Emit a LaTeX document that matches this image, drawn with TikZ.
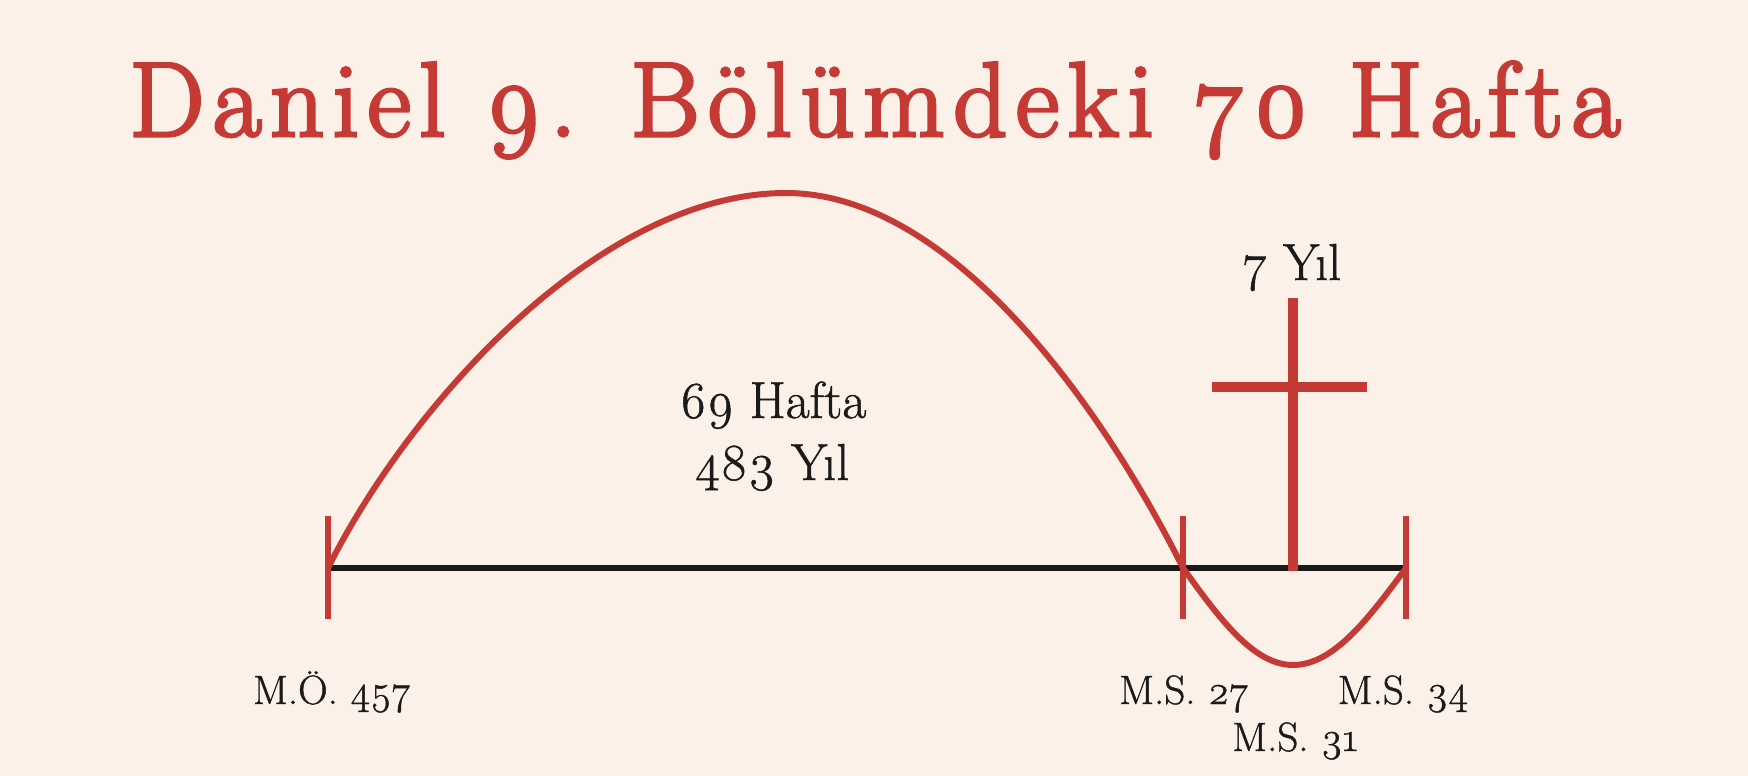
\documentclass[tikz,border=0pt]{standalone}
\usepackage{fontspec}
\setmainfont{Latin Modern Roman}[Numbers=OldStyle]
\newfontfamily\titlefont{Latin Modern Roman}[Numbers=OldStyle,LetterSpace=8,FakeBold=3]
\newfontfamily\labelfont{Latin Modern Roman}[Numbers=OldStyle,FakeBold=1]
\definecolor{bg}{HTML}{FCF1E9}
\definecolor{rd}{HTML}{C63A36}
\definecolor{ink}{HTML}{1A1A1A}
\begin{document}
\begin{tikzpicture}[x=1pt,y=-1pt,
  titletext/.style={anchor=base,text=rd,font=\fontsize{106}{120}\titlefont,inner sep=0pt},
  lbl/.style={anchor=base,text=ink,font=\fontsize{41}{48}\labelfont,inner sep=0pt},
  biglbl/.style={anchor=base,text=ink,font=\fontsize{52}{62}\labelfont,inner sep=0pt,align=center},
  tick/.style={draw=rd,line width=6.5pt},
  axis/.style={draw=ink,line width=6pt},
  wave/.style={draw=rd,line width=6pt},
  crossbar/.style={draw=rd,line width=10pt}]
\fill[bg] (0,0) rectangle (1748,776);
\useasboundingbox (0,0) rectangle (1748,776);
\node[titletext] (title) at (875,136) {Daniel 9. Bölümdeki 70 Hafta};
% time points
\coordinate (a) at (328,568);
\coordinate (b) at (1183,568);
\coordinate (m) at (1293,568);
\coordinate (c) at (1406,568);
\coordinate (peak) at (786,193);
\coordinate (trough) at (1293,665);
% axis
\draw[axis] (a) -- (c);
% wave
\draw[wave] (a) .. controls (410,404) and (600,193) .. (peak)
  .. controls (956,193) and (1108,418) .. (b)
  sin (trough) cos (c);
% ticks
\foreach \p in {a,b,c}{
  \draw[tick] ([yshift=-51pt]\p) -- ([yshift=52pt]\p);
}
% cross
\coordinate (crosstop) at (1293,298);
\coordinate (crossL) at (1212,387);
\coordinate (crossR) at (1367,387);
\draw[crossbar] (crosstop) -- ([yshift=-3pt]m);
\draw[crossbar] (crossL) -- (crossR);
% labels
\node[biglbl] (seven) at (1292,280) {7 Yıl};
\node[biglbl] (sixtynine) at (773,418) {69 Hafta};
\node[biglbl] (years) at (772,480) {483 Yıl};
\node[lbl] (la) at (332,704) {M.Ö. 457};
\node[lbl] (lb) at (1184,704) {M.S. 27};
\node[lbl] (lc) at (1403,704) {M.S. 34};
\node[lbl] (lm) at (1295,751) {M.S. 31};
\end{tikzpicture}
\end{document}
